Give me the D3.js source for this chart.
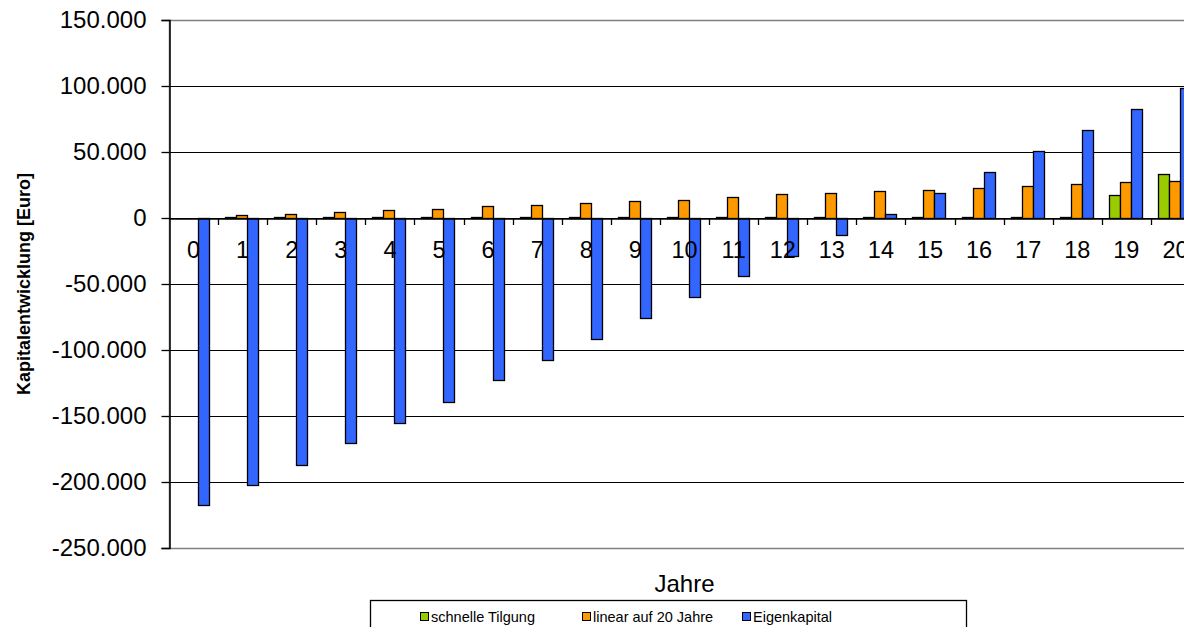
<!DOCTYPE html>
<html>
<head>
<meta charset="utf-8">
<script src="https://cdn.jsdelivr.net/npm/d3@7/dist/d3.min.js"></script>
<style>
  html, body { margin: 0; padding: 0; background: #fff; overflow: hidden; }
  svg { display: block; font-family: "Liberation Sans", Arial, sans-serif; }
</style>
</head>
<body>
<svg id="chart" width="1184" height="627"></svg>
<script>
// Years on the x axis
const years = d3.range(0, 21).map(String);

// Series values in Euro
const schnelleTilgung = [0, 600, 600, 600, 600, 600, 600, 600, 600, 600, 600,
                         600, 600, 600, 600, 600, 600, 600, 600, 17700, 33100];
const linear20 = [0, 2300, 3400, 4500, 5700, 6800, 9000, 10200, 11500, 12800, 13900,
                  15600, 18000, 19200, 20200, 21400, 22600, 24600, 25900, 27200, 28300];
const eigenkapital = [-217800, -202300, -186800, -170600, -155000, -139200, -122900,
                      -107300, -91800, -75600, -59800, -44300, -28800, -12700, 3000,
                      18600, 34800, 50600, 66300, 82900, 98500];

const seriesNames = ["schnelle Tilgung", "linear auf 20 Jahre", "Eigenkapital"];
const seriesColors = ["#99cc00", "#ff9900", "#3366ff"];
const seriesValues = [schnelleTilgung, linear20, eigenkapital];

const yTicks = [150000, 100000, 50000, 0, -50000, -100000, -150000, -200000, -250000];

const svg = d3.select("#chart");

const plot = { left: 169, top: 20, right: 1200, bottom: 548 };

const x = d3.scaleBand().domain(years).range([plot.left, plot.right]).padding(0);
const xs = d3.scaleBand().domain(seriesNames).range([7, 40]).padding(0);
const y = d3.scaleLinear().domain([-250000, 150000]).range([plot.bottom, plot.top]);

const deLocale = d3.formatLocale({ decimal: ",", thousands: ".", grouping: [3], currency: ["", " €"], minus: "-" });
const fmt = deLocale.format(",d");

// Horizontal gridlines
svg.append("g").selectAll("line")
  .data(yTicks.filter(t => t !== 150000 && t !== -250000))
  .join("line")
  .attr("x1", plot.left).attr("x2", plot.right)
  .attr("y1", d => Math.round(y(d)) + 0.5).attr("y2", d => Math.round(y(d)) + 0.5)
  .attr("stroke", "#000").attr("stroke-width", 1);

// Plot area border
svg.append("rect")
  .attr("x", plot.left + 0.5).attr("y", Math.round(plot.top) + 0.5)
  .attr("width", plot.right - plot.left).attr("height", plot.bottom - plot.top)
  .attr("fill", "none").attr("stroke", "#808080").attr("stroke-width", 1.5);

// Bars
const groups = svg.append("g").selectAll("g")
  .data(seriesNames.map((name, i) => ({ name, color: seriesColors[i], values: seriesValues[i] })))
  .join("g")
  .attr("fill", d => d.color);

groups.selectAll("rect")
  .data(s => s.values.map((v, i) => ({ year: years[i], v, name: s.name })).filter(d => d.v !== 0))
  .join("rect")
  .attr("x", d => Math.round(x(d.year) + xs(d.name)) + 0.5)
  .attr("width", xs.bandwidth())
  .attr("y", d => Math.round(y(Math.max(0, d.v))) + 0.5)
  .attr("height", d => Math.max(1, Math.round(Math.abs(y(d.v) - y(0)))))
  .attr("stroke", "#000").attr("stroke-width", 1.3);

// Y axis
const yAxis = d3.axisLeft(y).tickValues(yTicks).tickFormat(fmt).tickSize(8).tickPadding(15);
const gy = svg.append("g").attr("transform", `translate(${plot.left + 0.5},0)`).call(yAxis);
gy.select(".domain").attr("stroke", "#000").attr("stroke-width", 1.5);
gy.selectAll(".tick line").attr("stroke", "#000").attr("stroke-width", 1.3);
gy.selectAll(".tick text")
  .attr("font-size", "24px").attr("fill", "#000")
  .attr("font-family", "Liberation Sans, Arial, sans-serif");

// X axis on the zero line
const xAxis = d3.axisBottom(x).tickSize(0).tickPadding(23);
const gx = svg.append("g").attr("transform", `translate(0,${Math.round(y(0)) + 0.5})`).call(xAxis);
gx.select(".domain").attr("stroke", "#000").attr("stroke-width", 1.3);
gx.selectAll(".tick text")
  .attr("font-size", "23.5px").attr("fill", "#000")
  .attr("font-family", "Liberation Sans, Arial, sans-serif");

// Category separator ticks below the zero line
svg.append("g").selectAll("line")
  .data(years.slice(1))
  .join("line")
  .attr("x1", d => Math.round(x(d)) + 0.5).attr("x2", d => Math.round(x(d)) + 0.5)
  .attr("y1", Math.round(y(0))).attr("y2", Math.round(y(0)) + 7)
  .attr("stroke", "#000").attr("stroke-width", 1.3);

// Axis titles
svg.append("text")
  .attr("x", (plot.left + plot.right) / 2).attr("y", 592)
  .attr("text-anchor", "middle").attr("font-size", "24px").attr("fill", "#000")
  .text("Jahre");

svg.append("text")
  .attr("transform", `translate(30,${(plot.top + plot.bottom) / 2}) rotate(-90)`)
  .attr("text-anchor", "middle").attr("font-size", "18px").attr("font-weight", "bold")
  .attr("fill", "#000")
  .text("Kapitalentwicklung [Euro]");

// Legend
const legend = svg.append("g");
legend.append("rect")
  .attr("x", 370.5).attr("y", 600.5).attr("width", 596).attr("height", 40)
  .attr("fill", "#fff").attr("stroke", "#000").attr("stroke-width", 1.3);

const legendX = [420, 582, 742];
const items = legend.selectAll("g.item")
  .data(seriesNames.map((name, i) => ({ name, color: seriesColors[i], x: legendX[i] })))
  .join("g").attr("class", "item")
  .attr("transform", d => `translate(${d.x},0)`);
items.append("rect")
  .attr("x", 0.5).attr("y", 612.5).attr("width", 8).attr("height", 8)
  .attr("fill", d => d.color).attr("stroke", "#000").attr("stroke-width", 1);
items.append("text")
  .attr("x", 11).attr("y", 622)
  .attr("font-size", "14.5px").attr("fill", "#000")
  .text(d => d.name);
</script>
</body>
</html>
